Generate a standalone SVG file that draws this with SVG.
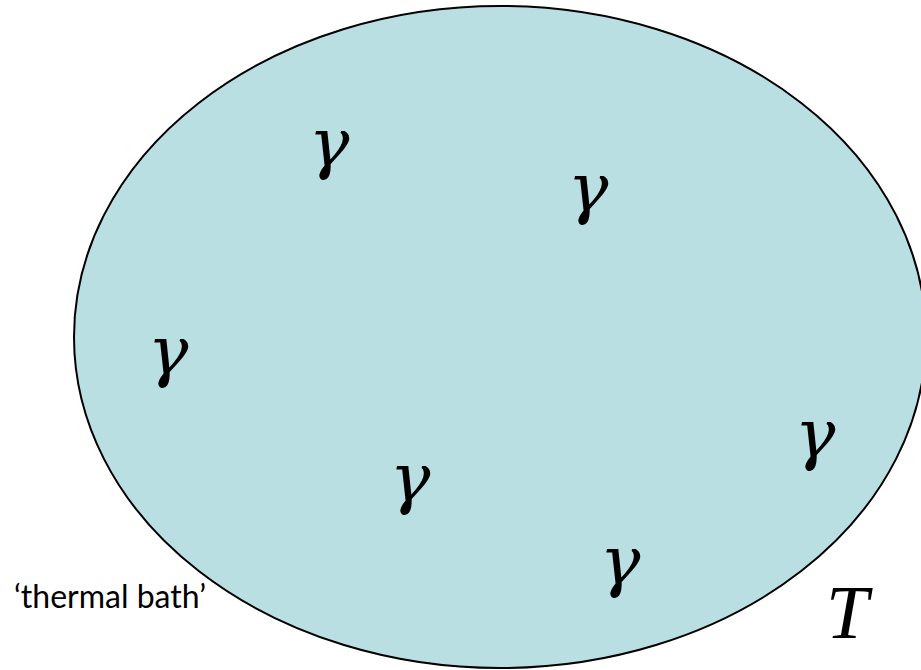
<svg xmlns="http://www.w3.org/2000/svg" width="921" height="670" viewBox="0 0 921 670">
<style>
.g{font-family:"DejaVu Serif",serif;font-style:italic;font-size:68px;fill:#000;text-anchor:middle}
.lbl{font-family:Lato,"Open Sans",sans-serif;font-size:32px;fill:#000}
</style>
<rect width="921" height="670" fill="#fff"/>
<g id="bath">
<ellipse cx="500" cy="337" rx="426" ry="331" fill="#b9dfe3" stroke="#000" stroke-width="2"/>
</g>
<g id="photons">
<text class="g" x="329" y="166">γ</text>
<text class="g" x="588" y="211">γ</text>
<text class="g" x="168" y="374">γ</text>
<text class="g" x="410" y="501">γ</text>
<text class="g" x="815" y="457">γ</text>
<text class="g" x="620" y="584">γ</text>
</g>
<g id="labels">
<text class="lbl" x="14" y="608">‘thermal bath’</text>
<text x="826" y="638" style="font-family:'Liberation Serif',serif;font-style:italic;font-size:76px">T</text>
</g>
</svg>
